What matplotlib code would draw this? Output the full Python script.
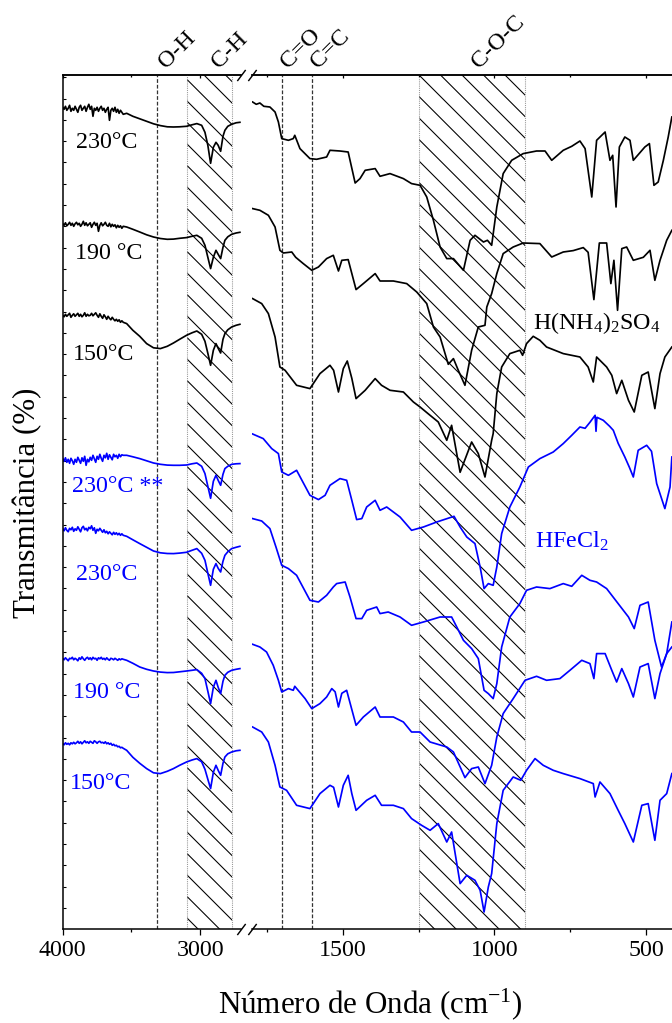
import matplotlib
matplotlib.use("Agg")
import matplotlib.pyplot as plt

plt.rcParams['font.family'] = ['Liberation Serif', 'DejaVu Serif']
plt.rcParams['mathtext.fontset'] = 'custom'
plt.rcParams['mathtext.rm'] = 'Liberation Serif'
plt.rcParams['mathtext.it'] = 'Liberation Serif:italic'
plt.rcParams['mathtext.default'] = 'regular'
plt.rcParams['hatch.linewidth'] = 0.6

# ---- spectra (offset transmittance, stacked) ----
# wavenumber grid for the 4000-2700 window: 10 cm-1 steps through the noisy part
left_wn = [4000, 3990, 3980, 3970, 3960, 3950, 3940, 3930, 3920, 3910,
           3900, 3890, 3880, 3870, 3860, 3850, 3840, 3830, 3820, 3810,
           3800, 3790, 3780, 3770, 3760, 3750, 3740, 3730, 3720, 3710,
           3700, 3690, 3680, 3670, 3660, 3650, 3640, 3630, 3620, 3610,
           3600, 3590, 3580, 3570, 3560,
           3535, 3490, 3440, 3390, 3340, 3290, 3240, 3195, 3150, 3100, 3060, 3025,
           2990, 2966, 2945, 2925, 2905, 2886, 2870, 2852, 2835, 2821, 2800, 2772,
           2740, 2712]

blk230_left = [822, 820, 823, 819, 821, 824, 818, 821, 819, 823,
               820, 817, 822, 824, 819, 821, 823, 818, 822, 825,
               820, 823, 813, 821, 819, 822, 818, 821, 823, 819,
               821, 817, 820, 822, 809, 819, 821, 818, 822, 817,
               820, 816, 819, 817, 815,
               816, 813, 810.5, 808, 805.5, 803.7, 802.5, 802.3, 802.5, 803, 804.5, 805.7,
               804, 797, 784, 766, 782, 787, 784, 778, 793, 799, 803, 805, 806.5, 807]
blk190_left = [705.7, 704, 706.5, 703.5, 705, 707, 704, 706, 703, 705.5,
               707, 704.5, 706, 703, 705, 708, 704, 706.5, 703.5, 705,
               706.5, 702, 705, 707, 704, 706, 698, 704, 706.5, 703.5,
               705, 707, 704, 703, 706, 702.5, 705, 703, 704.5, 701.5,
               704, 702, 703.5, 701, 703,
               702.3, 700, 697.3, 694.5, 692.3, 690.8, 690, 690.2, 691, 691.7, 693, 694,
               691, 684, 672, 660.7, 672, 679, 675, 670.7, 682, 689, 692.5, 695, 696.3, 697]
blk150_left = [614, 612.5, 615, 613, 614.5, 616, 612, 614, 615.5, 613,
               614.5, 616, 613, 615, 612.5, 614, 616.5, 613, 615, 613.5,
               614, 616, 613.5, 615, 616.5, 614, 612, 615.5, 613, 611,
               614.5, 612.5, 610, 613, 611, 609.5, 612, 610, 608.5, 610,
               608, 609.5, 607, 608.5, 607,
               605.7, 599, 593, 585.7, 581.5, 580.7, 583, 586.3, 590, 594, 596.5, 598.3,
               595, 588, 576, 564, 579, 585.7, 581, 576.3, 590, 595.7, 599.5, 602.3, 604, 605]
blu230b_left = [470.7, 468, 471.5, 467, 470, 466, 471, 468.5, 465, 470,
                467, 472, 469, 466, 471.5, 468, 473, 464, 470, 467.5,
                472, 469, 474, 470.5, 467, 473, 470, 475, 471, 468,
                474, 471.5, 476, 470, 474.5, 472, 469.5, 475, 472.5, 474,
                471, 475, 472.5, 474.5, 474,
                474, 472.5, 470.7, 468.5, 466.3, 465, 464.2, 464, 464, 464.3, 465.5, 466.3,
                463, 455.7, 443, 431, 448, 454, 449, 444, 455, 460.7, 463, 465, 465.5, 465.7]
blu230_left = [400.7, 398.5, 401.5, 399, 397.5, 401, 399.5, 402, 398, 400.5,
               399, 402.5, 400, 397.5, 401.5, 403, 399.5, 401, 398.5, 402,
               400.5, 403.5, 399, 401.5, 396, 400, 398.5, 401, 399, 397,
               399.5, 396.5, 398, 395.5, 397.5, 396, 394.5, 397, 395, 396.5,
               394.5, 396, 394, 395.5, 394,
               393, 389.5, 385.7, 382, 378.3, 376.5, 375.8, 375.7, 376.2, 377, 379, 380.7,
               376, 369, 356, 344, 360, 365.7, 361, 357.3, 368, 374, 377.5, 380.7, 382, 383]
blu190_left = [270.7, 269.5, 271.5, 270, 268.5, 271, 270.5, 272, 269.5, 271,
               270, 268.5, 271.5, 270, 272.5, 270.5, 269, 271, 272, 270,
               271.5, 269.5, 272, 270.5, 271, 269, 271.5, 270.5, 272, 270,
               271, 269.5, 271.5, 270, 269, 271, 270.5, 269.5, 271, 270,
               269, 270.5, 269.5, 270.5, 270,
               269, 266, 262.3, 260, 258.3, 257.2, 256.7, 256.8, 257.5, 258.3, 259, 259.7,
               256, 250.7, 238, 225.7, 242, 249, 242, 235.7, 248, 254, 257, 259, 260, 260.7]
blu150_left = [185.7, 184.5, 186.5, 185, 186, 184.5, 186.5, 185.5, 187, 185.5,
               186.5, 188, 186, 187.5, 185.5, 187, 188.5, 186.5, 187.5, 186,
               188, 187, 186, 188.5, 187.5, 186, 187.5, 188, 186.5, 187,
               186, 187.5, 185.5, 186.5, 185, 186, 184, 185, 183.5, 184,
               182.5, 183, 181.5, 182, 181,
               179, 172, 166, 160.7, 156.5, 155.7, 158, 160.7, 164, 167.3, 169.3, 170.7,
               167.5, 160, 150, 140.7, 157, 164, 159, 154, 166, 172.3, 175.5, 177.3, 178.5, 179]

# 1800-400 window
blk230_rwn = [1797, 1785, 1773, 1760, 1740, 1723, 1712, 1701, 1679, 1663, 1658, 1641, 1608,
              1586, 1553, 1542, 1509, 1482, 1459, 1443, 1426, 1393, 1377, 1344, 1300, 1273,
              1245, 1223, 1201, 1179, 1157, 1135, 1102, 1080, 1064, 1036, 1023, 1009, 992,
              971, 943, 905, 861, 833, 811, 773, 745, 718, 701, 679, 663, 635, 619, 610, 599,
              588, 570, 553, 542, 504, 489, 474, 460, 443, 427, 415]
blk230_rval = [827.3, 825, 826.3, 823, 822.3, 817.3, 807.3, 790.7, 789, 790.7, 794, 780.7,
               770.7, 770, 772.3, 779, 778.3, 777.3, 746.3, 750.7, 759, 760.7, 753, 755.7,
               750.7, 745.7, 744, 732.3, 709, 682.3, 670.7, 670.7, 659, 689, 694, 687.3, 689,
               684, 722.3, 755.7, 769, 775.7, 778.3, 778.3, 769, 779, 783, 788.3, 780.7, 732.3,
               789, 797.3, 769, 774, 722.3, 782.3, 792.3, 789, 769, 782.3, 785.7, 744, 747.3,
               769, 792.3, 812.3]

blk190_rwn = [1797, 1773, 1745, 1723, 1707, 1696, 1668, 1655, 1630, 1602, 1580, 1553, 1531,
              1514, 1503, 1482, 1456, 1432, 1393, 1377, 1333, 1289, 1256, 1223, 1201, 1179,
              1152, 1135, 1119, 1097, 1075, 1053, 1031, 1025, 1009, 992, 971, 938, 905, 850,
              811, 773, 740, 707, 691, 672, 654, 630, 616, 606, 594, 580, 564, 542, 509, 487,
              471, 454, 432, 415]
blk190_rval = [720.7, 719, 714, 702.3, 679, 676.3, 677.3, 672, 665.7, 659, 662.3, 670.7, 674,
               658.3, 669, 669.7, 639.7, 645.7, 655.7, 648.3, 648.3, 645.7, 637.3, 625.7,
               602.3, 592.3, 565, 570.7, 559, 544, 579, 602.3, 604, 622.3, 635.7, 655.7,
               675.7, 682.3, 686.3, 685.7, 672.3, 677.3, 678.7, 681.7, 677, 629.7, 686.3,
               686.3, 645.7, 669, 619, 680.7, 682.3, 669, 672, 679, 649, 669, 689, 699]

blk150_rwn = [1797, 1767, 1745, 1723, 1707, 1690, 1652, 1608, 1575, 1542, 1530, 1514, 1498,
              1485, 1470, 1456, 1426, 1393, 1372, 1344, 1300, 1267, 1245, 1212, 1185, 1157,
              1141, 1113, 1075, 1053, 1031, 1009, 1004, 992, 976, 949, 916, 907, 894, 872,
              850, 828, 773, 718, 691, 674, 663, 630, 613, 597, 580, 558, 539, 514, 493, 471,
              454, 438, 415]
blk150_rval = [630.7, 625.7, 615.7, 592.3, 562.3, 559, 544, 540.7, 555.7, 564, 559, 537.3,
               560.7, 568.3, 551, 530.7, 539, 550.7, 544, 539, 537.3, 527.3, 522.3, 514,
               507.3, 489, 504, 457, 487.3, 475.7, 452.3, 489, 495.7, 535.7, 562.3, 575.7,
               579, 574, 585.7, 593, 589, 582.3, 575.7, 572.3, 562.3, 547.3, 572.3, 562.3,
               554, 535.7, 549, 529, 517.3, 554, 557.3, 520.7, 555.7, 572.3, 582.3]

blu230b_rwn = [1797, 1762, 1734, 1712, 1701, 1679, 1652, 1608, 1580, 1558, 1542, 1509, 1487,
               1470, 1454, 1437, 1421, 1393, 1377, 1355, 1311, 1273, 1234, 1190, 1133, 1113,
               1091, 1064, 1047, 1034, 1020, 1004, 992, 976, 949, 916, 888, 850, 806, 773,
               745, 718, 701, 685, 668, 665, 662, 641, 620, 608, 592, 570, 555, 542, 526,
               498, 482, 465, 438, 421, 415]
blu230b_rval = [495.3, 490.7, 480.7, 475.7, 457.3, 454, 459, 434, 429.7, 434, 444, 450.7,
                449, 429, 409.7, 410.7, 422.3, 429, 419, 422.3, 412.3, 399, 402.3, 407.3,
                413, 402.3, 392.3, 385.7, 362.3, 340.7, 345.7, 344, 362.3, 395.7, 422.3,
                442.3, 462.3, 470.7, 477.3, 485.7, 494, 502.3, 501, 507, 514, 498, 512, 509,
                503, 499, 486, 472.3, 462, 452.3, 479, 484, 478, 445.7, 420.7, 442.3, 472.3]

blu230_rwn = [1797, 1767, 1740, 1720, 1701, 1679, 1652, 1608, 1580, 1553, 1531, 1520, 1492,
              1476, 1456, 1437, 1421, 1388, 1377, 1350, 1311, 1273, 1234, 1179, 1141, 1124,
              1102, 1075, 1053, 1034, 1020, 1004, 992, 976, 949, 916, 894, 861, 817, 773,
              745, 712, 685, 663, 630, 592, 558, 539, 520, 493, 471, 449, 432, 415]
blu230_rval = [410.7, 408.3, 400.7, 382.3, 364, 360.7, 354, 329, 327.3, 334, 342.3, 345.7,
               347.3, 332.3, 310.7, 310.7, 319, 322.3, 315.7, 317.3, 312.3, 304, 307.3,
               312.3, 312.3, 302.3, 289, 280.7, 270.7, 239, 235.7, 230.7, 245.7, 282.3,
               312.3, 325.7, 339, 342.3, 340.7, 345.7, 343, 354, 349, 347.3, 340.7, 325.7,
               312.3, 300.7, 324, 327.3, 289, 262.3, 275.7, 307.3]

blu190_rwn = [1797, 1773, 1751, 1729, 1712, 1701, 1679, 1663, 1658, 1624, 1602, 1575, 1553,
              1536, 1525, 1514, 1503, 1487, 1456, 1432, 1393, 1377, 1333, 1300, 1273, 1245,
              1212, 1157, 1135, 1097, 1075, 1053, 1031, 1009, 992, 971, 938, 899, 861, 828,
              784, 751, 712, 685, 672, 663, 635, 613, 597, 580, 558, 542, 520, 493, 471,
              454, 432, 415]
blu190_rval = [285, 282.3, 277.3, 264, 249, 237.3, 240.7, 239, 243, 230.7, 220.7, 225.7,
               232.3, 240.7, 237.5, 222.3, 236, 239, 204, 212.3, 222.3, 212.3, 212.3, 207.3,
               197.3, 197.3, 187.3, 182.3, 177.3, 151.7, 160.7, 162.3, 145.7, 164, 192.3,
               215.7, 230.7, 249, 253, 249, 250.7, 259, 269, 265.7, 250.7, 275.7, 275.7,
               259, 247.3, 260.7, 245.7, 232.3, 262.3, 265.7, 230.7, 255.7, 275.7, 282.3]

blu150_rwn = [1797, 1767, 1745, 1723, 1707, 1685, 1652, 1608, 1575, 1542, 1530, 1514, 1498,
              1482, 1470, 1456, 1421, 1393, 1372, 1333, 1300, 1273, 1240, 1212, 1185, 1157,
              1141, 1113, 1091, 1064, 1047, 1034, 1020, 1009, 992, 971, 938, 913, 894, 866,
              839, 806, 773, 718, 674, 668, 652, 619, 592, 570, 542, 514, 493, 471, 454,
              432, 415]
blu150_rval = [202.3, 197.3, 187.3, 164, 142.3, 139, 124, 120.7, 135.7, 144, 142, 122.3,
               144, 154, 135.7, 119, 129, 134, 124, 124, 120.7, 110.7, 104, 99, 105.7, 87.3,
               97.3, 45.7, 54, 49, 39, 17.3, 42.3, 55.7, 105.7, 139, 152.3, 149, 159, 170.7,
               164, 159, 155.7, 150.7, 145.7, 132.3, 147.3, 135.7, 119, 105.7, 87.3, 124,
               125.7, 89, 129, 135.7, 155.7]

sample_labels = ["230°C", "190 °C", "150°C", "230°C **", "230°C", "190 °C", "150°C"]
sample_colors = ["black", "black", "black", "blue", "blue", "blue", "blue"]
left_series = [blk230_left, blk190_left, blk150_left, blu230b_left, blu230_left,
               blu190_left, blu150_left]
right_series = [(blk230_rwn, blk230_rval), (blk190_rwn, blk190_rval),
                (blk150_rwn, blk150_rval), (blu230b_rwn, blu230b_rval),
                (blu230_rwn, blu230_rval), (blu190_rwn, blu190_rval),
                (blu150_rwn, blu150_rval)]

# band assignments
band_lines_left = [3312]          # O-H
band_lines_right = [1700, 1600]   # C=O, C=C
ch_band = (2772, 3100)
coc_band = (900, 1250)
band_names = ["O-H", "C-H", "C=O", "C=C", "C-O-C"]

# ---- figure ----
DPI = 129
W, H = 672, 1023
fig = plt.figure(figsize=(W / DPI, H / DPI), dpi=DPI)

def pt(px):
    return px * 72.0 / DPI

bot = (H - 929.3) / H
hgt = 854.6 / H
axL = fig.add_axes([62.7 / W, bot, (241 - 62.7) / W, hgt])
axR = fig.add_axes([251.7 / W, bot, (676.4 - 251.7) / W, hgt])

for ax in (axL, axR):
    ax.set_ylim(0, 854.6)
    for s in ax.spines.values():
        s.set_linewidth(0.85)
axL.set_xlim(4000, 2704)
axR.set_xlim(1800, 400)
axL.spines['right'].set_visible(False)
axR.spines['left'].set_visible(False)

lw = 0.95
for vals, (rwn, rval), col in zip(left_series, right_series, sample_colors):
    axL.plot(left_wn, vals, color=col, lw=lw)
    axR.plot(rwn, rval, color=col, lw=lw)

# hatched band regions
for ax, (a, b) in ((axL, ch_band), (axR, coc_band)):
    ax.axvspan(a, b, facecolor='none', edgecolor='black', hatch='\\\\', lw=0, zorder=0)
    for x in (a, b):
        ax.axvline(x, color='0.6', lw=0.6, ls=(0, (1, 1)), zorder=1)

dash = (0, (3, 1.5))
for x in band_lines_left:
    axL.axvline(x, color='0.2', lw=0.7, ls=dash, zorder=1)
for x in band_lines_right:
    axR.axvline(x, color='0.2', lw=0.7, ls=dash, zorder=1)

# ticks
axL.set_xticks([4000, 3000])
axL.set_xticks([3500], minor=True)
axR.set_xticks([1500, 1000, 500])
axR.set_xticks([1750, 1250, 750], minor=True)
for ax in (axL, axR):
    ax.tick_params(axis='x', which='major', direction='out', length=pt(5.7),
                   width=0.7, pad=pt(5), labelsize=13.4)
    ax.tick_params(axis='x', which='minor', direction='out', length=pt(3.3), width=0.7)
    sec = ax.secondary_xaxis('top')
    sec.set_xticks(ax.get_xticks())
    sec.set_xticks(ax.get_xticks(minor=True), minor=True)
    sec.tick_params(which='major', direction='in', length=pt(3), width=0.7, labeltop=False)
    sec.tick_params(which='minor', direction='in', length=pt(2), width=0.7)
    sec.spines['top'].set_linewidth(0.85)
axL.set_yticks([21.3 * i for i in range(1, 41)])
axL.tick_params(axis='y', direction='in', length=pt(3), width=0.6, labelleft=False)
axR.tick_params(axis='y', left=False, labelleft=False)

# axis break marks
brk = dict(marker=[(-0.75, -1), (0.75, 1)], markersize=6.2, linestyle='none',
           color='black', mec='black', mew=0.8, clip_on=False)
axL.plot([1, 1], [0, 1], transform=axL.transAxes, **brk)
axR.plot([0, 0], [0, 1], transform=axR.transAxes, **brk)

# sample labels
label_pos = [(3903, 781), (3911, 670), (3925, 569), (3935, 437), (3903, 349),
             (3925, 231), (3947, 140)]
for txt, col, (x, y) in zip(sample_labels, sample_colors, label_pos):
    axL.text(x, y, txt, color=col, fontsize=13.4, ha='left', va='baseline')
axR.text(873, 600, "H(NH$_4$)$_2$SO$_4$", color='black', fontsize=13.4,
         ha='left', va='baseline')
axR.text(866, 382, "HFeCl$_2$", color='blue', fontsize=13.4, ha='left', va='baseline')

# band names above the frame
name_pos = [(axL, 3247), (axL, 2862), (axR, 1680), (axR, 1580), (axR, 1051)]
for name, (ax, x) in zip(band_names, name_pos):
    ax.annotate(name, xy=(x, 1), xycoords=('data', 'axes fraction'),
                xytext=(0, pt(6)), textcoords='offset points', rotation=45,
                rotation_mode='anchor', ha='left', va='baseline', fontsize=13.4,
                annotation_clip=False)

fig.text(28 / W, 1 - 503 / H, "Transmitância (%)", rotation=90, ha='center',
         va='center', fontsize=17.3)
fig.text(370 / W, 1 - 1013 / H, "Número de Onda (cm$^{-1}$)", ha='center',
         va='baseline', fontsize=17.3)

fig.savefig("out.png", dpi=DPI)
